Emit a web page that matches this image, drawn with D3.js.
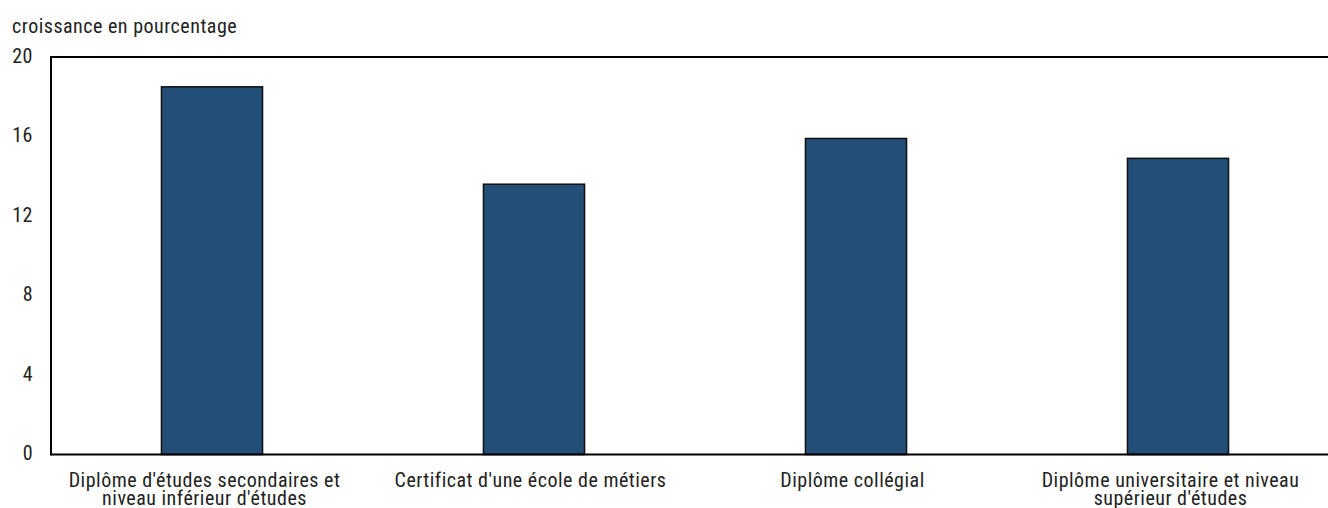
<!DOCTYPE html>
<html><head><meta charset="utf-8">
<script src="https://cdn.jsdelivr.net/npm/d3@7"></script>
<style>
body{margin:0;background:#fff;}
text{font-family:"Roboto Condensed","Liberation Sans Narrow","Arial Narrow",sans-serif;fill:#222;letter-spacing:0.5px;}
</style></head><body>
<svg id="c" width="1328" height="508"></svg>
<script>
const categories = [
  ["Diplôme d'études secondaires et", "niveau inférieur d'études"],
  ["Certificat d'une école de métiers"],
  ["Diplôme collégial"],
  ["Diplôme universitaire et niveau", "supérieur d'études"]
];
const values = [18.5, 13.6, 15.9, 14.9];
const yTicks = [0, 4, 8, 12, 16, 20];
const yTitle = "croissance en pourcentage";

(function(){
const svg = d3.select("#c");
const mL = 51, mT = 57, mB = 454.5, mR = 1339;
const x = d3.scaleBand().domain(d3.range(categories.length)).range([mL, mR])
  .paddingInner(0.686).paddingOuter(0.343);
const y = d3.scaleLinear().domain([0, 20]).range([mB, mT]);

svg.append("text").attr("x", 12).attr("y", 33).attr("font-size", 20).text(yTitle);

svg.selectAll("rect.bar").data(values).join("rect").attr("class","bar")
  .attr("x", (d,i)=>x(i)).attr("width", x.bandwidth())
  .attr("y", d=>y(d)).attr("height", d=>y(0)-y(d))
  .attr("fill", "#224E78").attr("stroke", "#111").attr("stroke-width", 1.5);

svg.append("line").attr("x1", mL).attr("x2", 1328).attr("y1", mT).attr("y2", mT).attr("stroke","#000").attr("stroke-width",2);
svg.append("line").attr("x1", mL).attr("x2", 1328).attr("y1", mB).attr("y2", mB).attr("stroke","#000").attr("stroke-width",2);
svg.append("line").attr("x1", mL).attr("x2", mL).attr("y1", mT-1).attr("y2", mB+1).attr("stroke","#000").attr("stroke-width",2);

svg.selectAll("text.yt").data(yTicks).join("text").attr("class","yt")
  .attr("x", 33).attr("y", d=>y(d)-1.5).attr("dy","0.36em").attr("text-anchor","end")
  .attr("font-size", 20).text(d=>d);

const xl = svg.selectAll("text.xl").data(categories).join("text").attr("class","xl")
  .attr("text-anchor","middle").attr("font-size", 20)
  .attr("transform", (d,i)=>`translate(${x(i)+x.bandwidth()/2 + (d.length>1?-7.5:-3.5)},486.5)`);
xl.selectAll("tspan").data(d=>d).join("tspan").attr("x",0).attr("dy",(d,j)=>j?18:0).text(d=>d);
})();
</script></body></html>
